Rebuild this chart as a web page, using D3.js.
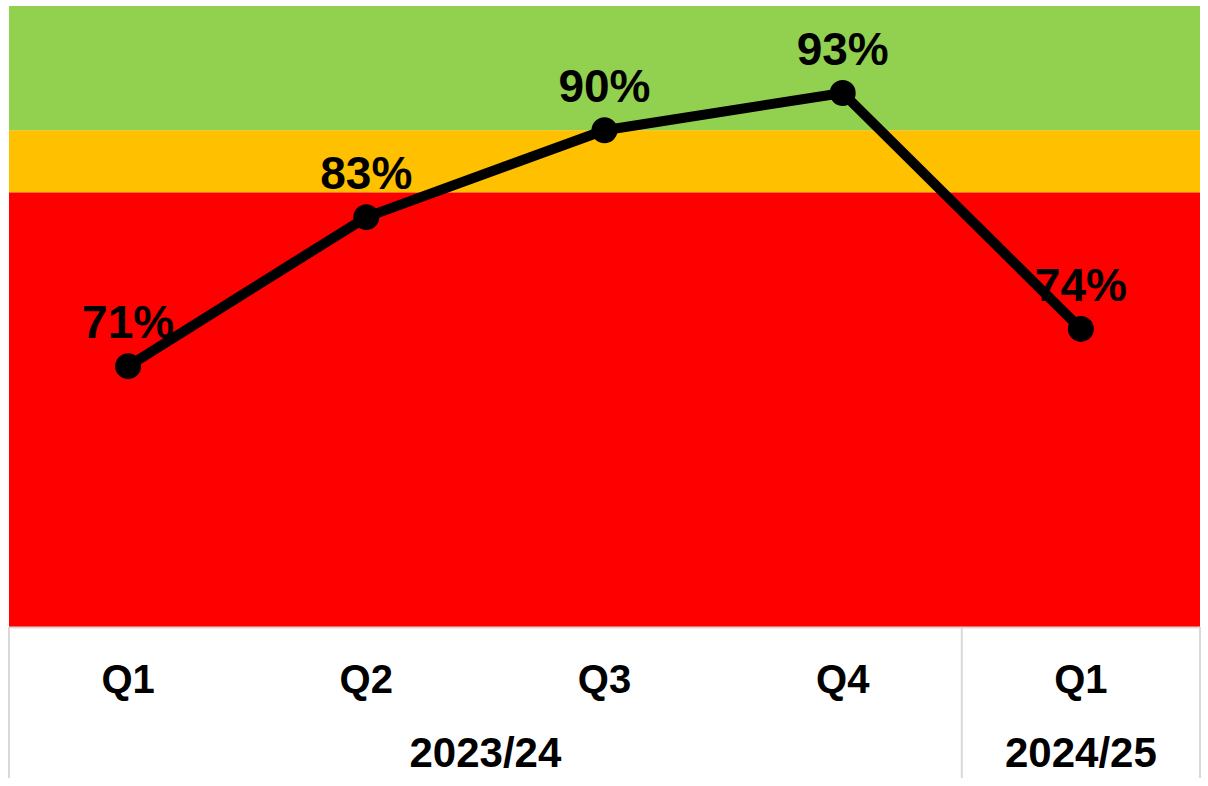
<!DOCTYPE html>
<html>
<head>
<meta charset="utf-8">
<script src="https://cdn.jsdelivr.net/npm/d3@7"></script>
<style>
    body { margin: 0; background: #fff; }
    svg { display: block; font-family: "Liberation Sans", Arial, sans-serif; }
</style>
</head>
<body>
<div id="chart"></div>
<script>
// data
const quarters = ["Q1", "Q2", "Q3", "Q4", "Q1"];
const years = ["2023/24", "2023/24", "2023/24", "2023/24", "2024/25"];
const values = [71, 83, 90, 93, 74];

// RAG bands (percent)
const bandLows = [50, 85, 90];
const bandHighs = [85, 90, 100];
const bandColors = ["#ff0000", "#ffc000", "#92d050"];

const width = 1208, height = 786;
const margin = { top: 6, right: 8, bottom: 159, left: 9 };

const svg = d3.select("#chart").append("svg")
    .attr("width", width)
    .attr("height", height);

const keys = quarters.map((q, i) => i);

const x = d3.scaleBand()
    .domain(keys)
    .range([margin.left, width - margin.right]);

const y = d3.scaleLinear()
    .domain([50, 100])
    .range([height - margin.bottom, margin.top]);

// background bands
svg.append("g")
    .selectAll("rect")
    .data(bandLows)
    .join("rect")
    .attr("x", margin.left)
    .attr("width", width - margin.left - margin.right)
    .attr("y", (d, i) => y(bandHighs[i]))
    .attr("height", (d, i) => y(d) - y(bandHighs[i]))
    .attr("fill", (d, i) => bandColors[i]);

// category axis
const axisY = height - margin.bottom;
const gridColor = "#d9d9d9";

svg.append("line")
    .attr("x1", margin.left).attr("x2", width - margin.right)
    .attr("y1", axisY + 0.5).attr("y2", axisY + 0.5)
    .attr("stroke", gridColor).attr("stroke-width", 2);

svg.append("g")
    .selectAll("text")
    .data(quarters)
    .join("text")
    .attr("x", (d, i) => x(i) + x.bandwidth() / 2)
    .attr("y", 693)
    .attr("text-anchor", "middle")
    .attr("font-size", 40)
    .attr("font-weight", "bold")
    .text(d => d);

// year groups
const yearGroups = d3.groups(keys, i => years[i]);
const groupData = yearGroups.map(([yr, idx]) => ({
    year: yr,
    x0: x(idx[0]),
    x1: x(idx[idx.length - 1]) + x.bandwidth()
}));

const edges = [margin.left].concat(groupData.map(g => g.x1));
svg.append("g")
    .selectAll("line")
    .data(edges)
    .join("line")
    .attr("x1", d => d).attr("x2", d => d)
    .attr("y1", axisY).attr("y2", 778)
    .attr("stroke", gridColor).attr("stroke-width", 2);

svg.append("g")
    .selectAll("text")
    .data(groupData)
    .join("text")
    .attr("x", d => (d.x0 + d.x1) / 2)
    .attr("y", 767)
    .attr("text-anchor", "middle")
    .attr("font-size", 42)
    .attr("font-weight", "bold")
    .text(d => d.year);

// line
const line = d3.line()
    .x((d, i) => x(i) + x.bandwidth() / 2)
    .y(d => y(d));

svg.append("path")
    .datum(values)
    .attr("d", line)
    .attr("fill", "none")
    .attr("stroke", "#000")
    .attr("stroke-width", 10)
    .attr("stroke-linejoin", "round");

svg.append("g")
    .selectAll("circle")
    .data(values)
    .join("circle")
    .attr("cx", (d, i) => x(i) + x.bandwidth() / 2)
    .attr("cy", d => y(d))
    .attr("r", 13)
    .attr("fill", "#000");

svg.append("g")
    .selectAll("text")
    .data(values)
    .join("text")
    .attr("x", (d, i) => x(i) + x.bandwidth() / 2)
    .attr("y", d => y(d) - 28)
    .attr("text-anchor", "middle")
    .attr("font-size", 46)
    .attr("font-weight", "bold")
    .text(d => d + "%");
</script>
</body>
</html>
